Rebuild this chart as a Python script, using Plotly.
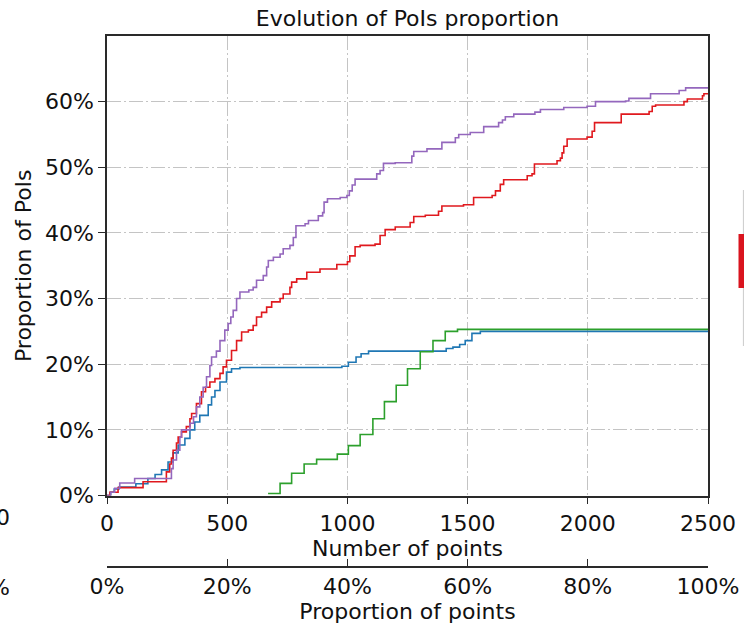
import plotly.graph_objects as go

# ---------------- data (step change points: number of points, proportion in %) -------------
purple_x = [0, 15, 32, 53, 115, 268, 275, 289, 303, 310, 345, 360, 372, 386, 400, 414, 428, 435,
            455, 470, 490, 504, 515, 525, 539, 553, 590, 608, 622, 650, 664, 671, 692, 720, 733,
            761, 775, 786, 824, 838, 879, 897, 903, 917, 970, 998, 1008, 1020, 1032, 1122, 1136,
            1150, 1199, 1268, 1276, 1331, 1393, 1449, 1463, 1511, 1567, 1629, 1645, 1657, 1692,
            1780, 1803, 1900, 1997, 2032, 2157, 2171, 2261, 2380, 2407, 2500]
purple_y = [0, 0.5, 1.1, 1.9, 2.6, 4.1, 5.4, 6.9, 8.9, 10.0, 11.0, 12.0, 13.5, 15.0, 16.5, 18.1,
            19.8, 21.1, 22.0, 23.6, 25.2, 26.2, 27.2, 28.2, 30.0, 31.0, 31.3, 31.7, 32.8, 33.5,
            34.8, 35.8, 36.3, 36.8, 37.6, 38.1, 39.3, 41.1, 41.4, 41.9, 42.6, 43.1, 44.7, 45.2,
            45.4, 45.7, 46.4, 47.3, 48.2, 49.0, 49.5, 50.6, 50.7, 51.7, 52.4, 52.8, 53.8, 54.5,
            55.0, 55.3, 56.2, 56.8, 57.2, 57.7, 58.1, 58.4, 58.8, 59.1, 59.3, 60.0, 60.1, 60.5,
            61.2, 61.7, 62.1, 62.1]

red_x = [0, 12, 46, 150, 247, 261, 268, 275, 289, 296, 310, 330, 345, 352, 372, 393, 410, 428,
         449, 470, 483, 497, 518, 539, 560, 588, 608, 622, 643, 664, 685, 720, 733, 761, 768, 789,
         831, 886, 956, 1000, 1010, 1032, 1053, 1115, 1136, 1157, 1199, 1261, 1276, 1324, 1379,
         1393, 1483, 1525, 1602, 1616, 1636, 1650, 1748, 1768, 1778, 1872, 1886, 1893, 1900, 1914,
         1997, 2018, 2028, 2139, 2255, 2268, 2282, 2400, 2414, 2477, 2483, 2500]
red_y = [0, 0.5, 1.2, 2.1, 3.6, 4.8, 5.7, 6.9, 8.0, 8.9, 9.7, 10.5, 11.7, 12.5, 14.0, 15.8, 16.5,
         17.3, 17.8, 18.6, 19.6, 20.6, 22.1, 23.6, 24.9, 25.2, 25.9, 27.2, 27.9, 28.7, 29.5, 30.0,
         30.7, 31.7, 32.5, 33.0, 34.0, 34.5, 35.2, 35.6, 36.5, 37.9, 38.1, 38.3, 39.6, 40.5, 40.9,
         41.6, 42.5, 42.7, 43.3, 44.1, 44.3, 45.4, 45.7, 46.4, 47.4, 48.1, 48.7, 49.0, 50.5, 51.0,
         51.4, 52.2, 53.2, 54.3, 54.6, 55.5, 56.8, 58.1, 58.5, 59.3, 59.5, 60.0, 60.4, 60.9, 61.2,
         61.2]

blue_x = [0, 15, 30, 50, 120, 170, 200, 227, 254, 275, 296, 324, 345, 365, 386, 421, 435, 449,
          470, 497, 518, 553, 977, 1004, 1036, 1057, 1088, 1411, 1439, 1467, 1490, 1518, 1553, 2500]
blue_y = [0, 0.5, 1.0, 1.3, 1.8, 2.6, 3.2, 3.9, 5.1, 6.5, 7.7, 8.7, 10.0, 11.2, 12.2, 13.8, 15.0,
          16.0, 17.3, 18.8, 19.3, 19.5, 19.7, 20.3, 21.1, 21.6, 22.0, 22.4, 22.6, 23.0, 23.6, 24.7,
          25.0, 25.0]

green_x = [670, 720, 768, 820, 872, 958, 1004, 1053, 1106, 1154, 1203, 1250, 1303, 1356, 1407,
           1458, 2500]
green_y = [0.3, 1.85, 3.4, 4.8, 5.5, 6.3, 7.6, 9.3, 11.7, 14.3, 16.8, 19.3, 21.9, 23.6, 25.0,
           25.3, 25.3]

x_ticks = [0, 500, 1000, 1500, 2000, 2500]
x_tick_labels = ["0", "500", "1000", "1500", "2000", "2500"]
y_ticks = [0, 10, 20, 30, 40, 50, 60]
y_tick_labels = ["0%", "10%", "20%", "30%", "40%", "50%", "60%"]
x2_ticks = [0, 20, 40, 60, 80, 100]
x2_tick_labels = ["0%", "20%", "40%", "60%", "80%", "100%"]

series = [
    ("Series blue", blue_x, blue_y, "#1f77b4"),
    ("Series red", red_x, red_y, "#e0191e"),
    ("Series purple", purple_x, purple_y, "#9467bd"),
    ("Series green", green_x, green_y, "#2ca02c"),
]

FONT = "DejaVu Sans"
FS = 22
AX = "#2a2a2a"
GRID = "#c4c4c4"
DASH = "14px,3px,2px,3px"

fig = go.Figure()
for name, xs, ys, col in series:
    fig.add_trace(go.Scatter(x=xs, y=ys, mode="lines", name=name, line_shape="hv",
                             line=dict(color=col, width=1.6), xaxis="x", yaxis="y"))

# invisible helper trace for the secondary (proportion) axis
fig.add_trace(go.Scatter(x=[0, 100], y=[0, 0], mode="lines", line=dict(width=0),
                         hoverinfo="skip", showlegend=False, xaxis="x2", yaxis="y"))

W, H = 744, 634
ml, mr, mt, mb = 107, 36, 36, 67
ph = H - mt - mb
y_dom0 = (H - mb - 495.5) / ph

def px_x(p):
    return (p - ml) / (W - ml - mr)

def px_y(p):
    return (H - mb - p) / ph

fig.update_layout(
    width=W, height=H,
    margin=dict(l=ml, r=mr, t=mt, b=mb, autoexpand=False),
    paper_bgcolor="white", plot_bgcolor="white",
    showlegend=False,
    font=dict(family=FONT, size=FS, color="#111"),
    title=dict(text="Evolution of PoIs proportion", x=0.5, xref="paper", xanchor="center",
               y=1 - 18 / H, yanchor="middle", font=dict(family=FONT, size=FS, color="#111")),
    xaxis=dict(range=[0, 2500], tickvals=x_ticks, ticktext=x_tick_labels,
               showline=True, linecolor=AX, linewidth=1.5, mirror=True,
               ticks="outside", ticklen=7, tickwidth=1.3, tickcolor=AX,
               showgrid=True, gridcolor=GRID, gridwidth=1.3, griddash=DASH,
               zeroline=False, anchor="y", automargin=False,
               title=dict(text="Number of points", standoff=3,
                          font=dict(family=FONT, size=FS))),
    xaxis2=dict(range=[0, 100], tickvals=x2_ticks, ticktext=x2_tick_labels,
                overlaying="x", anchor="free", position=0, side="bottom",
                showline=True, linecolor=AX, linewidth=1.5, automargin=False,
                ticks="inside", ticklen=7, tickwidth=1.3, tickcolor=AX,
                showgrid=False, zeroline=False,
                title=dict(text="Proportion of points", standoff=3,
                           font=dict(family=FONT, size=FS))),
    yaxis=dict(range=[0, 70], domain=[y_dom0, 1], tickvals=y_ticks, ticktext=y_tick_labels,
               showline=True, linecolor=AX, linewidth=1.5, mirror=True,
               ticks="outside", ticklen=7, tickwidth=1.3, tickcolor=AX,
               showgrid=True, gridcolor=GRID, gridwidth=1.3, griddash=DASH,
               zeroline=False, automargin=False,
               title=dict(text="Proportion of PoIs", standoff=7,
                          font=dict(family=FONT, size=FS))),
)

# neighbouring (clipped) panels visible at the image edges
fig.add_annotation(text="2500", xref="paper", yref="paper", x=px_x(12), y=px_y(517),
                   xanchor="right", yanchor="middle", showarrow=False,
                   font=dict(family=FONT, size=FS, color="#111"))
fig.add_annotation(text="100%", xref="paper", yref="paper", x=px_x(12), y=px_y(587),
                   xanchor="right", yanchor="middle", showarrow=False,
                   font=dict(family=FONT, size=FS, color="#111"))
fig.add_shape(type="line", xref="paper", yref="paper", x0=px_x(743.5), x1=px_x(743.5),
              y0=px_y(190), y1=px_y(346), line=dict(color="#d0d0d0", width=1.2))
fig.add_shape(type="rect", xref="paper", yref="paper", x0=px_x(738.5), x1=px_x(750),
              y0=px_y(288), y1=px_y(234), line=dict(width=0), fillcolor="#d9141e")

# remove the default page margin so the figure fills the window exactly
fig.write_html("out.html",
               config={"displayModeBar": False},
               post_script="document.body.style.margin='0px';document.body.style.overflow='hidden';")
